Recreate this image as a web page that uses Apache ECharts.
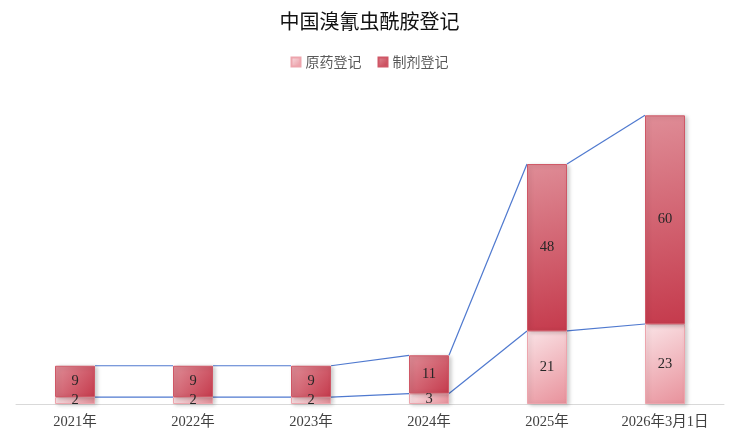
<!DOCTYPE html>
<html lang="zh">
<head>
<meta charset="UTF-8">
<title>中国溴氰虫酰胺登记</title>
<script src="https://cdn.jsdelivr.net/npm/echarts@6/dist/echarts.min.js"></script>
<style>
  html, body { margin: 0; padding: 0; background: #fff; }
  #chart { width: 739px; height: 439px; }
</style>
</head>
<body>
<div id="chart"></div>
<script>
// 数据
var categories = ['2021年', '2022年', '2023年', '2024年', '2025年', '2026年3月1日'];
var tcValues = [2, 2, 2, 3, 21, 23];      // 原药登记
var zjValues = [9, 9, 9, 11, 48, 60];     // 制剂登记

var serifFont = '"Liberation Serif", "DejaVu Serif", "Noto Sans CJK SC", serif';
var BAR_W = 40;

// 堆叠顶部，用于系列线
var tcTops = tcValues.slice();
var allTops = tcValues.map(function (v, i) { return v + zjValues[i]; });

function linkData(tops) {
  var out = [];
  for (var i = 0; i < tops.length - 1; i++) out.push([i, tops[i], tops[i + 1]]);
  return out;
}

function renderLink(params, api) {
  var i = api.value(0);
  var p1 = api.coord([i, api.value(1)]);
  var p2 = api.coord([i + 1, api.value(2)]);
  return {
    type: 'line',
    shape: { x1: p1[0] + BAR_W / 2, y1: p1[1], x2: p2[0] - BAR_W / 2, y2: p2[1] },
    style: { stroke: '#4f79cf', lineWidth: 1.2 }
  };
}

var tcColor = new echarts.graphic.LinearGradient(0, 0, 1, 1, [
  { offset: 0, color: '#fae3e6' },
  { offset: 1, color: '#e8919b' }
]);
var zjColor = new echarts.graphic.LinearGradient(0, 0, 1, 1, [
  { offset: 0, color: '#df8d97' },
  { offset: 1, color: '#c53a4c' }
]);

var chart = echarts.init(document.getElementById('chart'));
chart.setOption({
  animation: false,
  title: {
    text: '中国溴氰虫酰胺登记',
    left: 'center',
    top: 6,
    textStyle: { fontFamily: '"Noto Sans CJK SC", sans-serif', fontSize: 20, fontWeight: 'normal', color: '#111' }
  },
  legend: {
    top: 50,
    left: 'center',
    icon: 'rect',
    itemWidth: 9,
    itemHeight: 9,
    itemGap: 16,
    textStyle: { fontFamily: '"Noto Sans CJK SC", sans-serif', fontSize: 14, color: '#595959' },
    data: ['原药登记', '制剂登记']
  },
  grid: { left: 16, right: 15, top: 91, bottom: 35 },
  xAxis: {
    type: 'category',
    data: categories,
    axisLine: { lineStyle: { color: '#d9d9d9' } },
    axisTick: { show: false },
    axisLabel: { fontFamily: serifFont, fontSize: 14.5, color: '#404040', margin: 11 }
  },
  yAxis: {
    type: 'value',
    min: 0,
    max: 90,
    show: false,
    splitLine: { show: false }
  },
  series: [
    {
      name: '原药登记',
      type: 'bar',
      stack: 'total',
      barWidth: BAR_W,
      data: tcValues,
      itemStyle: {
        color: tcColor,
        borderColor: '#eda5ad',
        borderWidth: 1,
        shadowBlur: 4,
        shadowOffsetX: 2,
        shadowOffsetY: 1,
        shadowColor: 'rgba(0,0,0,0.2)'
      },
      label: { show: true, position: 'inside', fontFamily: serifFont, fontSize: 14.5, color: '#262626' }
    },
    {
      name: '制剂登记',
      type: 'bar',
      stack: 'total',
      barWidth: BAR_W,
      data: zjValues,
      itemStyle: {
        color: zjColor,
        borderColor: '#cf5766',
        borderWidth: 1,
        shadowBlur: 4,
        shadowOffsetX: 2,
        shadowOffsetY: 1,
        shadowColor: 'rgba(0,0,0,0.2)'
      },
      label: { show: true, position: 'inside', fontFamily: serifFont, fontSize: 14.5, color: '#262626' }
    },
    {
      type: 'custom',
      renderItem: renderLink,
      data: linkData(tcTops),
      encode: { x: 0, y: 1 },
      silent: true,
      z: 1
    },
    {
      type: 'custom',
      renderItem: renderLink,
      data: linkData(allTops),
      encode: { x: 0, y: 1 },
      silent: true,
      z: 1
    }
  ]
});
</script>
</body>
</html>
